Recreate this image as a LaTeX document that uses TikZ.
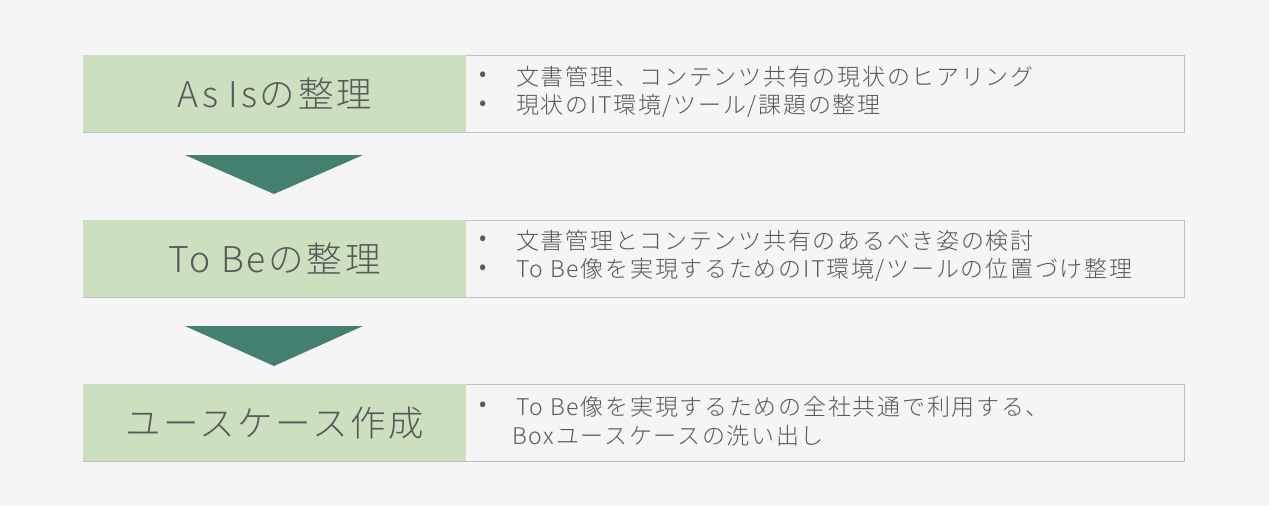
\documentclass[tikz,border=0pt]{standalone}
\usepackage{fontspec}
\setmainfont{Noto Sans CJK JP}[UprightFont={* Light}]
\usetikzlibrary{calc}
\definecolor{bg}{HTML}{F5F5F5}
\definecolor{lgreen}{HTML}{CCE0C0}
\definecolor{dgreen}{HTML}{44806F}
\definecolor{txt}{HTML}{595959}
\definecolor{bord}{HTML}{BFBFBF}
\tikzset{
  titlebox/.style={fill=lgreen, draw=none, minimum width=383pt, minimum height=77pt, anchor=north west, inner sep=0pt, text=txt, font=\fontsize{35.5}{41}\selectfont\addfontfeatures{LetterSpace=7.5}},
  outerbox/.style={draw=bord, line width=1.2pt, fill=bg, minimum width=1101pt, minimum height=77pt, anchor=north west, inner sep=0pt},
  bul/.style={anchor=west, inner sep=0pt, text=txt, font=\fontsize{23}{27}\selectfont\addfontfeatures{LetterSpace=7.5}},
  downarrow/.style={fill=dgreen, draw=none}
}
\begin{document}
\begin{tikzpicture}[x=1pt,y=1pt]
\useasboundingbox[fill=bg] (0,0) rectangle (1269,-506);
% row 1
\node[outerbox] (o1) at (83,-55) {};
\node[titlebox] (t1) at (83,-55) {As Isの整理};
\node[bul] (b1a) at (479,-77) {•};
\node[bul] (l1a) at (516,-77) {文書管理、コンテンツ共有の現状のヒアリング};
\node[bul] (b1b) at (479,-106) {•};
\node[bul] (l1b) at (516,-106) {現状のIT環境/ツール/課題の整理};
% arrow 1
\coordinate (a1l) at (185,-155);
\coordinate (a1r) at (363,-155);
\coordinate (a1t) at (274,-194);
\fill[downarrow] (a1l) -- (a1r) -- (a1t) -- cycle;
% row 2
\node[outerbox] (o2) at (83,-220) {};
\node[titlebox] (t2) at (83,-220) {To Beの整理};
\node[bul] (b2a) at (479,-241) {•};
\node[bul] (l2a) at (516,-241) {文書管理とコンテンツ共有のあるべき姿の検討};
\node[bul] (b2b) at (479,-270) {•};
\node[bul] (l2b) at (516,-270) {To Be像を実現するためのIT環境/ツールの位置づけ整理};
% arrow 2
\coordinate (a2l) at (185,-326);
\coordinate (a2r) at (363,-326);
\coordinate (a2t) at (274,-366);
\fill[downarrow] (a2l) -- (a2r) -- (a2t) -- cycle;
% row 3
\node[outerbox] (o3) at (83,-384) {};
\node[titlebox] (t3) at (83,-384) {ユースケース作成};
\node[bul] (b3a) at (479,-407) {•};
\node[bul] (l3a) at (516,-407) {To Be像を実現するための全社共通で利用する、};
\node[bul] (l3b) at (512,-436) {Boxユースケースの洗い出し};
\end{tikzpicture}
\end{document}
